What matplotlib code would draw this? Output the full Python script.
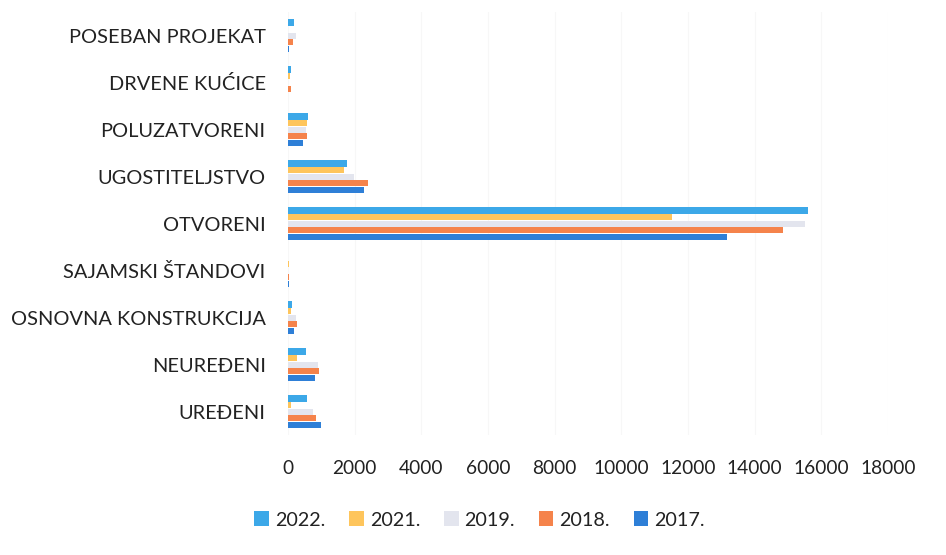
import matplotlib
matplotlib.use("Agg")
import matplotlib.pyplot as plt
import numpy as np

categories = ["UREĐENI", "NEUREĐENI", "OSNOVNA KONSTRUKCIJA", "SAJAMSKI ŠTANDOVI",
              "OTVORENI", "UGOSTITELJSTVO", "POLUZATVORENI", "DRVENE KUĆICE", "POSEBAN PROJEKAT"]
years = ["2022.", "2021.", "2019.", "2018.", "2017."]
v2022 = [570, 550, 130, 10, 15600, 1780, 600, 100, 180]
v2021 = [100, 270, 80, 20, 11520, 1680, 580, 60, 0]
v2019 = [750, 900, 230, 10, 15500, 1980, 530, 0, 230]
v2018 = [850, 930, 270, 20, 14850, 2410, 580, 80, 160]
v2017 = [1000, 800, 180, 20, 13170, 2280, 450, 0, 40]
series = [v2022, v2021, v2019, v2018, v2017]
colors = ["#3CA8E8", "#FEC55C", "#E3E5EE", "#F5834B", "#2E7FD7"]
xticks = [0, 2000, 4000, 6000, 8000, 10000, 12000, 14000, 16000, 18000]

plt.rcParams['font.family'] = ['Lato', 'DejaVu Sans']
fig = plt.figure(figsize=(9.46, 5.55), dpi=100)
ax = fig.add_axes([0.3044, 0.216, 0.6343, 0.762])

y = np.arange(len(categories))
h = 0.14
offsets = [2 * h, h, 0, -h, -2 * h]
for vals, off, col, lab in zip(series, offsets, colors, years):
    ax.barh(y + off, vals, height=h * 0.95, color=col, label=lab, zorder=3)

ax.set_xlim(0, 18000)
ax.set_ylim(-0.5, len(categories) - 0.5)
ax.set_yticks(y)
ax.set_yticklabels(categories, fontsize=14.4, color="#222222")
ax.set_xticks(xticks)
ax.set_xticklabels([str(t) for t in xticks], fontsize=13.8, color="#222222")
ax.tick_params(axis='both', length=0)
ax.tick_params(axis='x', pad=18)
ax.tick_params(axis='y', pad=16)
for s in ax.spines.values():
    s.set_visible(False)
ax.grid(axis='x', color="#f7f7f7", linewidth=0.8, zorder=0)

handles, labels = ax.get_legend_handles_labels()
fig.legend(handles, labels, loc='center', bbox_to_anchor=(0.507, 0.063), ncol=5,
           frameon=False, fontsize=14.2, handlelength=0.75, handleheight=0.75,
           handletextpad=0.3, columnspacing=1.2, labelcolor="#222222")

fig.savefig("out.png", dpi=100)
